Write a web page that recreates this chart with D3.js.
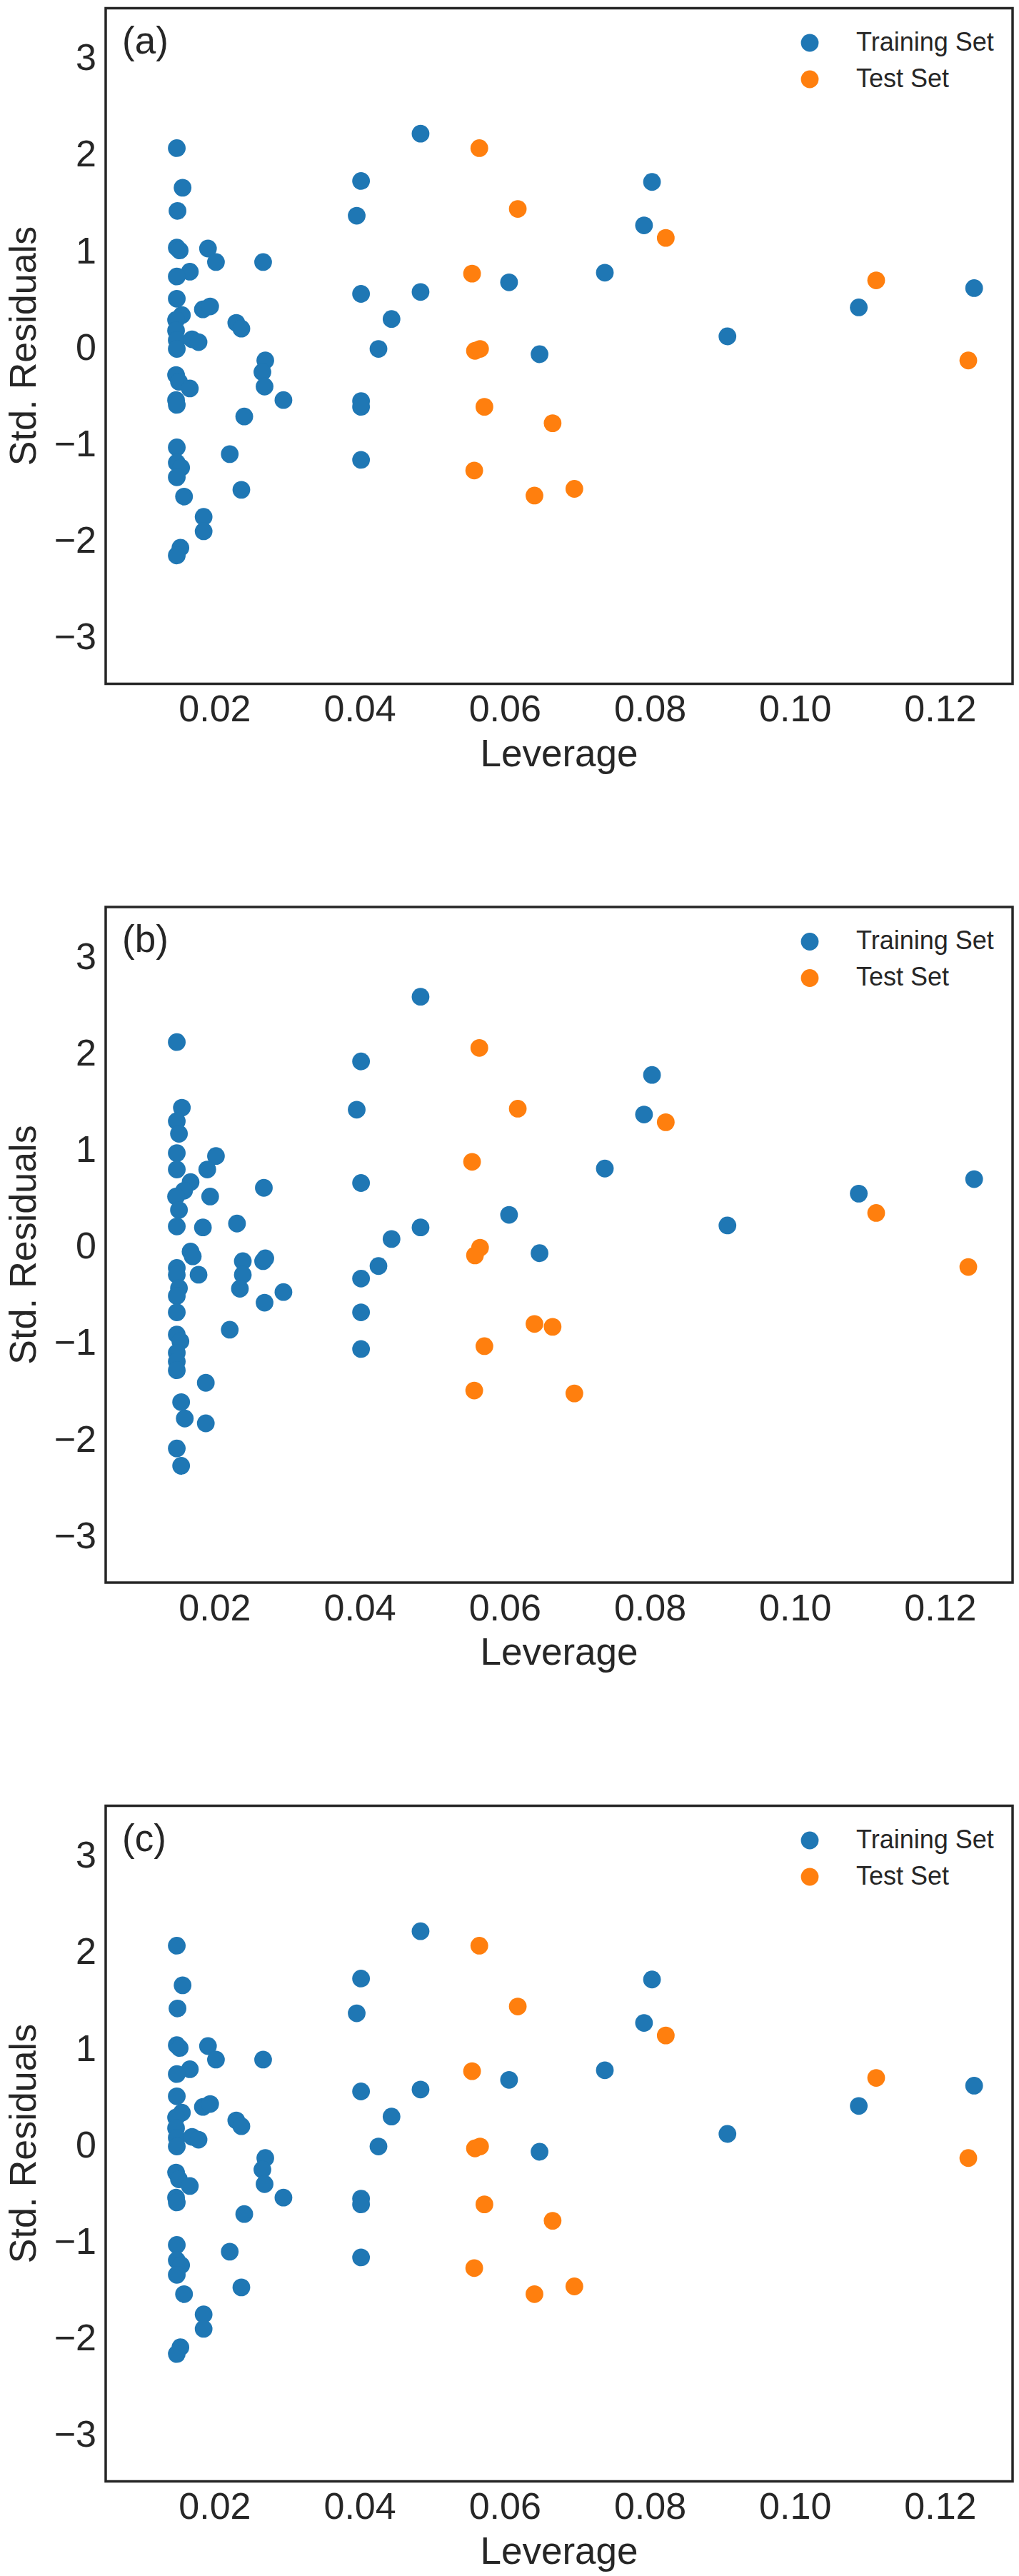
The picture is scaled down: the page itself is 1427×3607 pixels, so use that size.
<!DOCTYPE html>
<html>
<head>
<meta charset="utf-8">
<script src="https://cdn.jsdelivr.net/npm/d3@7"></script>
<style>
    body { margin: 0; background: #fff; }
    text { font-family: "Liberation Sans", Arial, sans-serif; fill: #262626; }
</style>
</head>
<body>
<div id="chart-area"></div>
<script>
// Williams plot data (leverage vs standardized residuals)

// panel (a)
var aTrainLev = [0.0148, 0.0156, 0.0149, 0.0148, 0.0152, 0.0166, 0.0148, 0.0148, 0.0155, 0.0147,
    0.0147, 0.0148, 0.0169, 0.0178, 0.0148, 0.0147, 0.0151, 0.0166, 0.0147, 0.0148,
    0.0148, 0.0148, 0.0154, 0.0148, 0.0158, 0.0153, 0.0148,
    0.0191, 0.0202, 0.0184, 0.0194, 0.0185, 0.0185,
    0.0230, 0.0237, 0.0267, 0.0270, 0.0266, 0.0269, 0.0295, 0.0241, 0.0221, 0.0237,
    0.0402, 0.0396, 0.0402, 0.0444, 0.0426, 0.0402, 0.0402, 0.0402, 0.0484, 0.0484,
    0.0606, 0.0648, 0.0738, 0.0792, 0.0803, 0.0907, 0.1088, 0.1247];
var aTrainRes = [2.05, 1.64, 1.40, 1.02, 0.99, 0.77, 0.72, 0.49, 0.32, 0.27,
    0.16, 0.06, 0.07, 0.04, -0.03, -0.30, -0.37, -0.44, -0.56, -0.61,
    -1.05, -1.21, -1.26, -1.36, -1.56, -2.09, -2.17,
    1.01, 0.87, 0.38, 0.41, -1.77, -1.92,
    0.24, 0.18, 0.87, -0.15, -0.27, -0.42, -0.56, -0.73, -1.12, -1.49,
    1.71, 1.35, 0.54, 0.28, -0.03, -0.57, -0.63, -1.18, 2.20, 0.56,
    0.66, -0.085, 0.76, 1.25, 1.70, 0.10, 0.40, 0.60];
var aTestLev = [0.0565, 0.0555, 0.0559, 0.0566, 0.0572, 0.0558, 0.0618, 0.0666, 0.0641, 0.0696, 0.0822, 0.1112, 0.1239];
var aTestRes = [2.05, 0.75, -0.05, -0.03, -0.63, -1.29, 1.42, -0.80, -1.55, -1.48, 1.12, 0.68, -0.15];

// panel (b)
var bTrainLev = [0.0148, 0.0155, 0.0148, 0.0151, 0.0148, 0.0148, 0.0202, 0.0190, 0.0167, 0.0158,
    0.0147, 0.0194, 0.0268, 0.0151, 0.0148, 0.0184, 0.0231, 0.0167, 0.0170, 0.0148,
    0.0148, 0.0178, 0.0239, 0.0267, 0.0270, 0.0239, 0.0235, 0.0151, 0.0148, 0.0269,
    0.0295, 0.0148, 0.0221, 0.0148, 0.0153, 0.0148, 0.0148, 0.0148, 0.0188, 0.0154,
    0.0159, 0.0188, 0.0148, 0.0154,
    0.0402, 0.0396, 0.0402, 0.0444, 0.0426, 0.0402, 0.0402, 0.0402, 0.0484, 0.0484,
    0.0606, 0.0648, 0.0738, 0.0792, 0.0803, 0.0907, 0.1088, 0.1247];
var bTrainRes = [2.10, 1.42, 1.28, 1.15, 0.95, 0.78, 0.92, 0.78, 0.65, 0.56,
    0.50, 0.50, 0.59, 0.36, 0.19, 0.18, 0.22, -0.07, -0.12, -0.24,
    -0.31, -0.31, -0.17, -0.17, -0.14, -0.31, -0.455, -0.45, -0.53, -0.60,
    -0.49, -0.70, -0.88, -0.93, -1.00, -1.12, -1.21, -1.30, -1.43, -1.63,
    -1.80, -1.85, -2.11, -2.29,
    1.90, 1.40, 0.64, 0.06, -0.22, -0.35, -0.70, -1.08, 2.57, 0.18,
    0.31, -0.087, 0.79, 1.35, 1.76, 0.20, 0.53, 0.68];
var bTestLev = [0.0565, 0.0618, 0.0555, 0.0566, 0.0559, 0.0641, 0.0666, 0.0572, 0.0558, 0.0696, 0.0822, 0.1112, 0.1239];
var bTestRes = [2.04, 1.41, 0.86, -0.03, -0.11, -0.82, -0.85, -1.05, -1.51, -1.54, 1.27, 0.33, -0.23];

// panel (c)
var cTrainLev = [0.0148, 0.0156, 0.0149, 0.0148, 0.0152, 0.0166, 0.0148, 0.0148, 0.0155, 0.0147,
    0.0147, 0.0148, 0.0169, 0.0178, 0.0148, 0.0147, 0.0151, 0.0166, 0.0147, 0.0148,
    0.0148, 0.0148, 0.0154, 0.0148, 0.0158, 0.0153, 0.0148,
    0.0191, 0.0202, 0.0184, 0.0194, 0.0185, 0.0185,
    0.0230, 0.0237, 0.0267, 0.0270, 0.0266, 0.0269, 0.0295, 0.0241, 0.0221, 0.0237,
    0.0402, 0.0396, 0.0402, 0.0444, 0.0426, 0.0402, 0.0402, 0.0402, 0.0484, 0.0484,
    0.0606, 0.0648, 0.0738, 0.0792, 0.0803, 0.0907, 0.1088, 0.1247];
var cTrainRes = [2.05, 1.64, 1.40, 1.02, 0.99, 0.77, 0.72, 0.49, 0.32, 0.27,
    0.16, 0.06, 0.07, 0.04, -0.03, -0.30, -0.37, -0.44, -0.56, -0.61,
    -1.05, -1.21, -1.26, -1.36, -1.56, -2.11, -2.18,
    1.01, 0.87, 0.38, 0.41, -1.77, -1.92,
    0.24, 0.18, 0.87, -0.15, -0.27, -0.42, -0.56, -0.73, -1.12, -1.49,
    1.71, 1.35, 0.54, 0.28, -0.03, -0.57, -0.63, -1.18, 2.20, 0.56,
    0.66, -0.085, 0.76, 1.25, 1.70, 0.10, 0.39, 0.60];
var cTestLev = [0.0565, 0.0555, 0.0559, 0.0566, 0.0572, 0.0558, 0.0618, 0.0666, 0.0641, 0.0696, 0.0822, 0.1112, 0.1239];
var cTestRes = [2.05, 0.75, -0.05, -0.03, -0.63, -1.29, 1.42, -0.80, -1.56, -1.48, 1.12, 0.68, -0.15];

var panelLabels = ["(a)", "(b)", "(c)"];
var seriesNames = ["Training Set", "Test Set"];
var seriesColors = ["#1f77b4", "#ff7f0e"];
var xTicks = [0.02, 0.04, 0.06, 0.08, 0.10, 0.12];
var yTicks = [-3, -2, -1, 0, 1, 2, 3];

var panels = [
    { train: [aTrainLev, aTrainRes], test: [aTestLev, aTestRes] },
    { train: [bTrainLev, bTrainRes], test: [bTestLev, bTestRes] },
    { train: [cTrainLev, cTrainRes], test: [cTestLev, cTestRes] }
];

var margin = { left: 148, right: 9, top: 11.5 };
var width = 1427 - margin.left - margin.right,
    height = 946,
    step = 1258.5;

var svg = d3.select("#chart-area")
    .append("svg")
        .attr("width", 1427)
        .attr("height", 3607);

// shared scales
var x = d3.scaleLinear()
    .domain([0.005, 0.130])
    .range([0, width]);

var y = d3.scaleLinear()
    .domain([-3.5, 3.5])
    .range([height, 0]);

var zip = function(pair) {
    return pair[0].map(function(d, i) { return { lev: d, res: pair[1][i] }; });
};

panels.forEach(function(p, k) {
    var g = svg.append("g")
        .attr("transform", "translate(" + margin.left + ", " + (margin.top + k * step) + ")");

    // X Axis
    var xAxisCall = d3.axisBottom(x)
        .tickValues(xTicks)
        .tickFormat(d3.format(".2f"))
        .tickSize(0)
        .tickPadding(13);
    var xAxis = g.append("g")
        .attr("transform", "translate(0," + height + ")")
        .call(xAxisCall);
    xAxis.select(".domain").remove();
    xAxis.selectAll("text")
        .attr("font-size", "52px")
        .attr("dy", "0.76em");

    // Y Axis (integer labels with a real minus sign)
    var yAxisCall = d3.axisLeft(y)
        .tickValues(yTicks)
        .tickFormat(d3.format("d"))
        .tickSize(0)
        .tickPadding(13);
    var yAxis = g.append("g").call(yAxisCall);
    yAxis.select(".domain").remove();
    yAxis.selectAll("text")
        .attr("font-size", "52px")
        .attr("dy", "0.36em");

    // points
    [p.train, p.test].forEach(function(series, s) {
        g.append("g").selectAll("circle")
            .data(zip(series))
            .enter()
            .append("circle")
                .attr("cx", function(d) { return x(d.lev); })
                .attr("cy", function(d) { return y(d.res); })
                .attr("r", 12.4)
                .attr("fill", seriesColors[s]);
    });

    // frame
    g.append("rect")
        .attr("width", width)
        .attr("height", height)
        .attr("fill", "none")
        .attr("stroke", "#262626")
        .attr("stroke-width", 3.5);

    // panel label
    g.append("text")
        .attr("x", 23)
        .attr("y", 63)
        .attr("font-size", "53px")
        .text(panelLabels[k]);

    // legend
    var legend = g.append("g")
        .attr("transform", "translate(" + (1134 - margin.left) + ", 48.5)");
    seriesNames.forEach(function(name, s) {
        legend.append("circle")
            .attr("cx", 0)
            .attr("cy", s * 51)
            .attr("r", 12.4)
            .attr("fill", seriesColors[s]);
        legend.append("text")
            .attr("x", 65)
            .attr("y", s * 51)
            .attr("dy", "0.3em")
            .attr("font-size", "36px")
            .text(name);
    });

    // X Label
    g.append("text")
        .attr("x", width / 2)
        .attr("y", height + 115)
        .attr("font-size", "53px")
        .attr("text-anchor", "middle")
        .text("Leverage");

    // Y Label
    g.append("text")
        .attr("x", -(height / 2))
        .attr("y", 50 - margin.left)
        .attr("font-size", "52px")
        .attr("text-anchor", "middle")
        .attr("transform", "rotate(-90)")
        .text("Std. Residuals");
});
</script>
</body>
</html>
